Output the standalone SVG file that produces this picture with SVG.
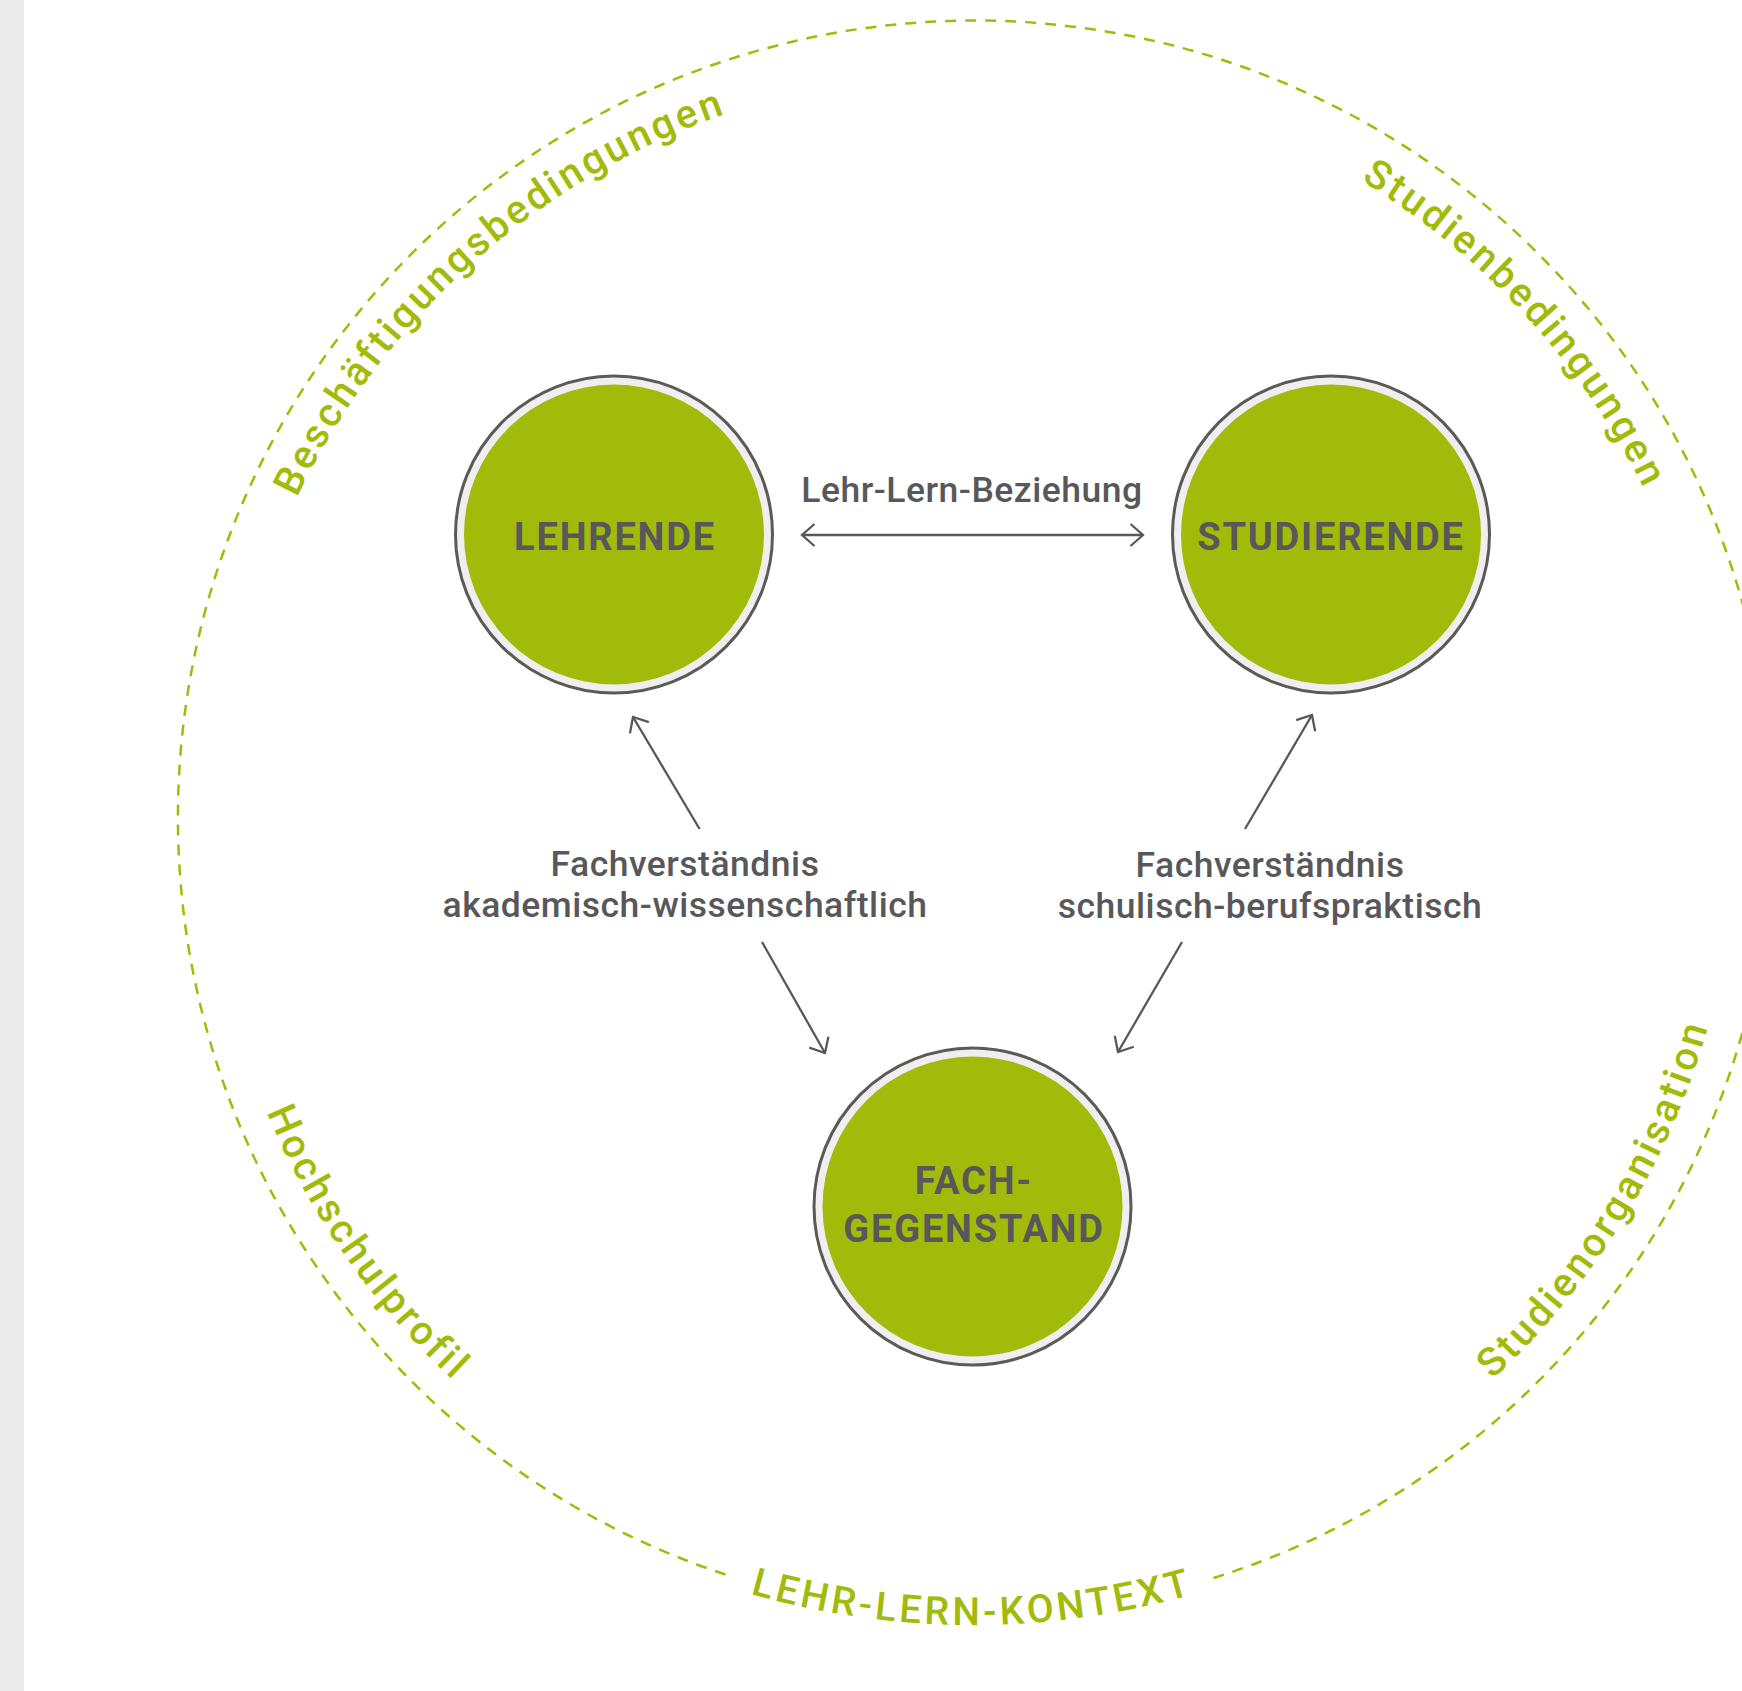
<svg xmlns="http://www.w3.org/2000/svg" width="1742" height="1691" viewBox="0 0 1742 1691">
<defs>
<style>
.ring{fill:none;stroke:#a2bb0a;stroke-width:2.5;stroke-dasharray:11 9}
.ctx{font-family:Roboto,"Liberation Sans",sans-serif;font-weight:500;font-size:40px;fill:#a2bb0a;letter-spacing:3.2px}
.node-outer{fill:#efefef;stroke:#5a5a56;stroke-width:3}
.node-inner{fill:#a2bb0a}
.nlabel{font-family:Roboto,"Liberation Sans",sans-serif;font-weight:700;font-size:38px;fill:#58585a;letter-spacing:1.8px;text-anchor:middle}
.clabel{font-family:Roboto,"Liberation Sans",sans-serif;font-weight:500;font-size:35.5px;fill:#58585a;letter-spacing:0.5px;text-anchor:middle}
.conn{stroke:#58585a;stroke-width:2.3;fill:none}
</style>
<marker id="ah" markerUnits="userSpaceOnUse" markerWidth="30" markerHeight="30" viewBox="-20 -15 30 30" refX="0" refY="0" orient="auto-start-reverse" overflow="visible">
<path d="M-12.5,-11 L0,0 L-12.5,11" fill="none" stroke="#58585a" stroke-width="2.3"/>
</marker>
<path id="topArc" d="M223.5,821 A749,749 0 0 1 1721.5,821"/>
<path id="botArc" d="M208.5,820 A764,764 0 0 0 1736.5,820"/>
<path id="kArc" d="M167.5,820 A805,805 0 0 0 1777.5,820"/>
</defs>
<rect x="0" y="0" width="1742" height="1691" fill="#ffffff"/>
<rect x="0" y="0" width="24" height="1691" fill="#ebebeb"/>
<g id="context">
<path class="ring" d="M1213.5,1578 A797,797 0 1 0 725.5,1574.5"/>
<text class="ctx"><textPath href="#topArc" startOffset="26.8%" text-anchor="middle">Beschäftigungsbedingungen</textPath></text>
<text class="ctx"><textPath href="#topArc" startOffset="76.4%" text-anchor="middle">Studienbedingungen</textPath></text>
<text class="ctx"><textPath href="#botArc" startOffset="19.4%" text-anchor="middle">Hochschulprofil</textPath></text>
<text class="ctx"><textPath href="#botArc" startOffset="82.6%" text-anchor="middle">Studienorganisation</textPath></text>
<text class="ctx" style="font-size:39px;letter-spacing:3.6px"><textPath href="#kArc" startOffset="50%" text-anchor="middle">LEHR-LERN-KONTEXT</textPath></text>
</g>
<g id="node-lehrende">
<circle class="node-outer" cx="614" cy="534.5" r="158.5"/>
<circle class="node-inner" cx="614" cy="534.5" r="150"/>
<text class="nlabel" x="615" y="550">LEHRENDE</text>
</g>
<g id="node-studierende">
<circle class="node-outer" cx="1331" cy="534.5" r="158.5"/>
<circle class="node-inner" cx="1331" cy="534.5" r="150"/>
<text class="nlabel" x="1331" y="550">STUDIERENDE</text>
</g>
<g id="node-fachgegenstand">
<circle class="node-outer" cx="972.5" cy="1206.5" r="158.5"/>
<circle class="node-inner" cx="972.5" cy="1206.5" r="150"/>
<text class="nlabel" x="974" y="1194">FACH-</text>
<text class="nlabel" x="974" y="1242">GEGENSTAND</text>
</g>
<g id="connectors">
<line class="conn" x1="802" y1="535" x2="1143" y2="535" marker-start="url(#ah)" marker-end="url(#ah)"/>
<line class="conn" x1="699.6" y1="829" x2="633" y2="717" marker-end="url(#ah)"/>
<line class="conn" x1="762" y1="942" x2="825" y2="1053" marker-end="url(#ah)"/>
<line class="conn" x1="1245" y1="829" x2="1312" y2="715" marker-end="url(#ah)"/>
<line class="conn" x1="1182" y1="942" x2="1118" y2="1052" marker-end="url(#ah)"/>
</g>
<g id="labels">
<text class="clabel" x="972" y="502">Lehr-Lern-Beziehung</text>
<text class="clabel" x="685" y="876">Fachverständnis</text>
<text class="clabel" x="685" y="917">akademisch-wissenschaftlich</text>
<text class="clabel" x="1270" y="877">Fachverständnis</text>
<text class="clabel" x="1270" y="918">schulisch-berufspraktisch</text>
</g>
</svg>
